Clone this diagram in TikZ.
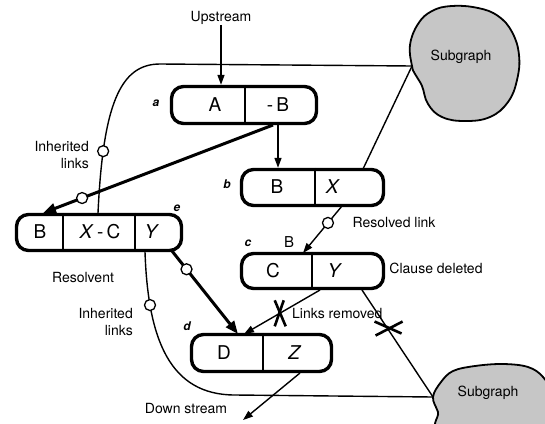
\documentclass[tikz,border=0pt]{standalone}
\usepackage{fontspec}
\setmainfont{TeX Gyre Heros}
\usetikzlibrary{arrows.meta,calc}
\tikzset{
  clause/.style={draw, line width=3.4pt, rounded corners=12pt, inner sep=0pt},
  cell/.style={font=\fontsize{19}{21}\selectfont, inner sep=0pt},
  lbl/.style={font=\fontsize{14}{17}\selectfont, inner sep=0pt, align=center},
  tag/.style={font=\bfseries\itshape\fontsize{12}{14}\selectfont, inner sep=0pt},
  link/.style={line width=1.4pt},
  linkarrow/.style={line width=1.4pt, -{Triangle[length=10pt,width=7pt]}},
  thickarrow/.style={line width=3pt, -{Triangle[length=13pt,width=10pt]}},
  ring/.style={circle, draw, line width=1.3pt, fill=white, minimum size=11pt, inner sep=0pt},
  blob/.style={draw, line width=1.8pt, fill=gray!45},
  divider/.style={line width=1.1pt},
  cross/.style={line width=2.6pt},
}
\begin{document}
\begin{tikzpicture}[x=1pt,y=-1pt]
\useasboundingbox (0,0) rectangle (545,423);

% subgraph blobs
\draw[blob] plot[smooth cycle, tension=0.7] coordinates {(412,66) (410,45) (418,24) (432,11) (452,6) (478,8) (498,16) (512,32) (519,55) (517,80) (508,102) (490,117) (465,121) (442,117) (428,104) (422,86) (415,74)};
\node[lbl] (sgtop) at (461,57) {Subgraph};
\draw[blob] plot[smooth cycle, tension=0.6] coordinates {(433,397) (441,382) (453,371) (475,366) (503,364) (528,367) (543,377) (552,395) (552,432) (445,432) (438,412)};
\node[lbl] (sgbot) at (488,393) {Subgraph};
\coordinate (s1) at (412,66);
\coordinate (s2) at (433,397);

% clauses
\node[clause, minimum width=145pt, minimum height=37pt] (a) at (244,105) {};
\node[clause, minimum width=142pt, minimum height=36pt] (b) at (312.5,187.5) {};
\node[clause, minimum width=142pt, minimum height=35pt] (c) at (312.5,271) {};
\node[clause, minimum width=140pt, minimum height=37pt] (d) at (261.5,353) {};
\node[clause, minimum width=165pt, minimum height=36pt] (e) at (99,232.5) {};

% dividers
\coordinate (ad) at (245,105);
\coordinate (bd) at (315,187);
\coordinate (cd) at (312,271);
\coordinate (dd) at (263,353);
\coordinate (ed1) at (63,232);
\coordinate (ed2) at (135,232);
\draw[divider] (a.north -| ad) -- (a.south -| ad);
\draw[divider] (b.north -| bd) -- (b.south -| bd);
\draw[divider] (c.north -| cd) -- (c.south -| cd);
\draw[divider] (d.north -| dd) -- (d.south -| dd);
\draw[divider] (e.north -| ed1) -- (e.south -| ed1);
\draw[divider] (e.north -| ed2) -- (e.south -| ed2);

% cell texts
\node[cell] (aA) at (215,105) {A};
\node[cell] (aB) at (278,105) {-\,B};
\node[cell] (bB) at (277,187) {B};
\node[cell] (bX) at (333,187) {\textit{X}};
\node[cell] (cC) at (273,271) {C};
\node[cell] (cY) at (335,271) {\textit{Y}};
\node[cell] (dD) at (224,353) {D};
\node[cell] (dZ) at (295,353) {\textit{Z}};
\node[cell] (eB) at (40,232) {B};
\node[cell] (eXC) at (100,232) {\textit{X}\,-\,C};
\node[cell] (eY) at (152,232) {\textit{Y}};

% tags
\node[tag] (ta) at (156,103) {a};
\node[tag] (tb) at (227,184) {b};
\node[tag] (tc) at (248,243) {c};
\node[tag] (td) at (187,326) {d};
\node[tag] (te) at (177,208) {e};
\node[font=\fontsize{15}{17}\selectfont, inner sep=0pt] (cBlit) at (289,242) {B};

% labels
\node[lbl] (up) at (221,18) {Upstream};
\node[lbl, align=right, anchor=east] (inh1) at (89,154.5) {Inherited\\links};
\node[lbl, align=right, anchor=east] (inh2) at (133,321.5) {Inherited\\links};
\node[lbl] (resv) at (83,277) {Resolvent};
\node[lbl] (rlink) at (394,222) {Resolved link};
\node[lbl] (cdel) at (436,268) {Clause deleted};
\node[lbl, anchor=west] (lrem) at (292,313) {Links removed};
\node[lbl] (down) at (186,408) {Down stream};

% connectors
\coordinate (a1) at (273,125);
\coordinate (e1) at (43,213);
\coordinate (e2) at (98,213);
\coordinate (b1) at (363,169);
\coordinate (b2) at (342,206);
\coordinate (c1) at (303,253);
\coordinate (e3) at (172,251);
\coordinate (d1) at (238,334);
\coordinate (c2) at (320,290);
\coordinate (d2) at (244,334);
\coordinate (c3) at (362,290);
\coordinate (e4) at (145,252);
\coordinate (d3) at (300,373);
\coordinate (ds) at (243,420);

\draw[linkarrow] (up.south) -- (a.north -| up.south);
\draw[linkarrow] (a.south -| aB) -- (b.north -| aB);
\draw[thickarrow] (a1) -- node[ring, pos=0.83] (r1) {} (e1);
\draw[link] (s1) -- (160,64) .. controls (120,64) and (103,105) .. node[ring, pos=0.78] (r2) {} (e2);
\draw[link] (s1) -- (b1);
\draw[linkarrow] (b2) -- node[ring, pos=0.36] (r3) {} (c1);
\draw[thickarrow] (e3) -- node[ring, pos=0.22] (r4) {} (d1);
\draw[linkarrow] (c2) -- coordinate[pos=0.53] (x1) (d2);
\draw[link] (c3) -- coordinate[pos=0.36] (x2) (s2);
\draw[link] (s2) -- (235,395) .. controls (170,395) and (148,340) .. node[ring, pos=0.78] (r5) {} (e4);
\draw[linkarrow] (d3) -- (ds);

% removal crosses
\draw[cross] ($(x1)+(-5,-13)$) -- ($(x1)+(6,13)$);
\draw[cross] ($(x1)+(4,-13)$) -- ($(x1)+(-5,13)$);
\draw[cross] ($(x2)+(-13,-7)$) -- ($(x2)+(14,5)$);
\draw[cross] ($(x2)+(-12,7)$) -- ($(x2)+(15,-7)$);
\end{tikzpicture}
\end{document}
